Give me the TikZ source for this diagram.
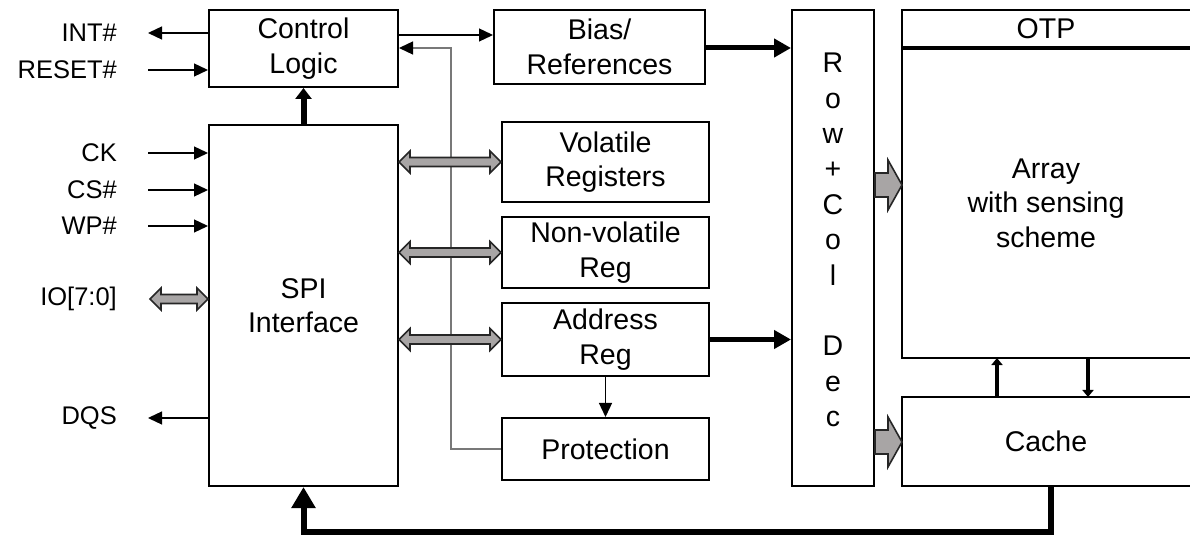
\documentclass[tikz,border=0pt]{standalone}
\usepackage{fontspec}
\setmainfont{Liberation Sans}
\usetikzlibrary{arrows.meta,calc}
\definecolor{blockgray}{RGB}{168,165,165}
\definecolor{linegray}{RGB}{120,120,120}
\tikzset{
  box/.style={draw, line width=2bp, inner sep=0pt, align=center,
    font=\fontsize{28.5bp}{34.5bp}\selectfont},
  openbox/.style={box, draw=none, outer sep=0pt},
  boxline/.style={line width=2bp},
  txt/.style={inner sep=0pt, align=center},
  pin/.style={anchor=east, inner sep=0pt, font=\fontsize{25.5bp}{30bp}\selectfont},
  thinarr/.style={line width=1.3bp, -{Triangle[length=14bp,width=13bp]}},
  thickarr/.style={line width=5bp, -{Triangle[length=17bp,width=18bp]}},
  uparr/.style={line width=6bp, -{Triangle[length=11bp,width=16bp]}},
  midarr/.style={line width=4bp, -{Triangle[length=7bp,width=11bp]}},
  looparr/.style={line width=6bp, -{Triangle[length=21bp,width=23bp]}},
  returnline/.style={line width=1.3bp, linegray, -{Triangle[length=14bp,width=13bp,black]}},
  grayblk/.style={fill=blockgray, draw=black!85, line width=1.6bp, line join=miter},
}
\newcommand\grayDbl[2]{%
  \path[grayblk] let \p1=(#1), \p2=(#2) in
    (\x1,\y1) -- (\x1+11bp,\y1+11bp) -- (\x1+11bp,\y1+4.5bp) -- (\x2-11bp,\y1+4.5bp)
    -- (\x2-11bp,\y1+11bp) -- (\x2,\y1) -- (\x2-11bp,\y1-11bp) -- (\x2-11bp,\y1-4.5bp)
    -- (\x1+11bp,\y1-4.5bp) -- (\x1+11bp,\y1-11bp) -- cycle;}
\newcommand\grayOne[2]{%
  \path[grayblk] let \p1=(#1), \p2=(#2) in
    (\x1,\y1+12bp) -- (\x2-14bp,\y1+12bp) -- (\x2-14bp,\y1+25bp) -- (\x2,\y1)
    -- (\x2-14bp,\y1-25bp) -- (\x2-14bp,\y1-12bp) -- (\x1,\y1-12bp) -- cycle;}
\begin{document}
\begin{tikzpicture}[x=1bp,y=-1bp]
\useasboundingbox (0,0) rectangle (1190,536);
\fill[white] (0,0) rectangle (1190,536);

% boxes
\node[box, minimum width=189bp, minimum height=77bp] (ctrl) at (303.5,48.5) {Control\\Logic};
\node[box, minimum width=189bp, minimum height=361bp] (spi) at (303.5,305.5) {SPI\\Interface};
\node[box, minimum width=211bp, minimum height=74bp] (bias) at (599.5,47) {Bias/\\References};
\node[box, minimum width=207bp, minimum height=80bp] (vol) at (605.5,162) {Volatile\\Registers};
\node[box, minimum width=207bp, minimum height=71bp] (nvol) at (605.5,252.5) {Non-volatile\\Reg};
\node[box, minimum width=207bp, minimum height=73bp] (addr) at (605.5,339.5) {Address\\Reg};
\node[box, minimum width=207bp, minimum height=62bp] (prot) at (605.5,449) {Protection};
\node[box, minimum width=82bp, minimum height=476bp] (dec) at (833,248) {};
\node[txt, font=\fontsize{28.5bp}{35.4bp}\selectfont] (decT) at (833,240)
  {R\\o\\w\\+\\C\\o\\l\\[35.4bp]D\\e\\c};

\node[openbox, minimum width=288bp, minimum height=38bp] (otp) at (1046,29) {OTP};
\node[openbox, minimum width=288bp, minimum height=310bp] (array) at (1046,203) {Array\\with sensing\\scheme};
\node[openbox, minimum width=288bp, minimum height=89bp] (cache) at (1046,441.5) {Cache};
\draw[boxline] (otp.north east) -- (otp.north west) -- (array.south west) -- (array.south east);
\draw[line width=4.5bp] (array.north west) -- (array.north east);
\draw[boxline] (cache.north east) -| (cache.south west) -- (cache.south east);

% pins
\coordinate (pINT) at (148,33);
\coordinate (pRST) at (148,70);
\coordinate (pCK) at (148,153);
\coordinate (pCS) at (148,190);
\coordinate (pWP) at (148,226);
\coordinate (pIO) at (150,299);
\coordinate (pDQS) at (148,418);
\node[pin] (lINT) at (117,33) {INT\#};
\node[pin] (lRST) at (117,70) {RESET\#};
\node[pin] (lCK) at (117,153) {CK};
\node[pin] (lCS) at (117,190) {CS\#};
\node[pin] (lWP) at (117,226) {WP\#};
\node[pin] (lIO) at (117,299) {IO[7:0]};
\node[pin] (lDQS) at (117,418) {DQS};
\draw[thinarr] (ctrl.west |- pINT) -- (pINT);
\draw[thinarr] (pRST) -- (ctrl.west |- pRST);
\draw[thinarr] (pCK) -- (spi.west |- pCK);
\draw[thinarr] (pCS) -- (spi.west |- pCS);
\draw[thinarr] (pWP) -- (spi.west |- pWP);
\draw[thinarr] (spi.west |- pDQS) -- (pDQS);
\grayDbl{pIO}{spi.west |- pIO}

% internal connectors
\coordinate (yB) at (0,35);
\coordinate (yP) at (0,48);
\coordinate (xP) at (451,0);
\draw[thinarr] (ctrl.east |- yB) -- (bias.west |- yB);
\draw[returnline] (prot.west) -| (xP |- yP) -- (ctrl.east |- yP);
\draw[uparr] (spi.north) -- (ctrl.south);
\grayDbl{spi.east |- vol.west}{vol.west}
\grayDbl{spi.east |- nvol.west}{nvol.west}
\grayDbl{spi.east |- addr.west}{addr.west}
\draw[thickarr] (bias.east |- yP) -- (dec.west |- yP);
\draw[thickarr] (addr.east) -- (dec.west |- addr.east);
\draw[thinarr] (addr.south) -- (prot.north);

\coordinate (yA) at (0,185);
\coordinate (yC) at (0,442);
\grayOne{dec.east |- yA}{array.west |- yA}
\grayOne{dec.east |- yC}{cache.west |- yC}

\coordinate (xU) at (997,0);
\coordinate (xD) at (1088,0);
\draw[midarr] (cache.north -| xU) -- (array.south -| xU);
\draw[midarr] (array.south -| xD) -- (cache.north -| xD);

\coordinate (xL) at (1051,0);
\coordinate (yL) at (0,532);
\draw[looparr] (cache.south -| xL) |- (spi.south |- yL) -- (spi.south);
\end{tikzpicture}
\end{document}
